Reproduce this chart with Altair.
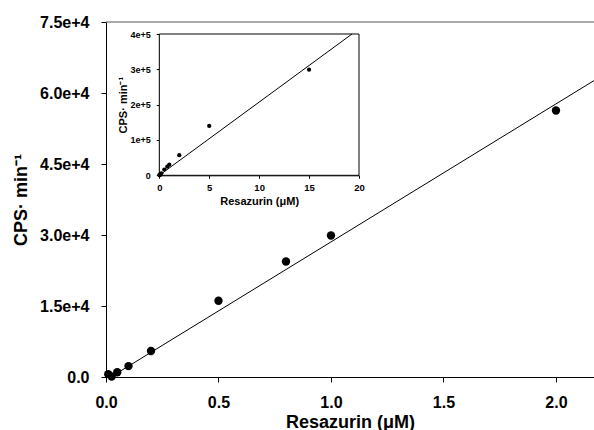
import altair as alt
import pandas as pd

# Main panel data
conc = [0.01, 0.025, 0.05, 0.1, 0.2, 0.5, 0.8, 1.0, 2.0]
cps = [600, 100, 1000, 2300, 5500, 16100, 24400, 29900, 56300]
fit_x = [0.0, 2.2]
fit_y = [-620, 63530]

# Inset data
inset_conc = [0.01, 0.025, 0.05, 0.1, 0.2, 0.5, 0.8, 1.0, 2.0, 5.0, 15.0]
inset_cps = [600, 100, 1000, 2300, 5500, 16100, 24400, 29900, 57000, 139600, 298900]
inset_fit_x = [0.0, 19.3]
inset_fit_y = [0, 400000]

main_x_ticks = [0, 0.5, 1.0, 1.5, 2.0]
main_y_ticks = [0, 15000, 30000, 45000, 60000, 75000]
inset_x_ticks = [0, 5, 10, 15, 20]
inset_y_ticks = [0, 100000, 200000, 300000, 400000]

FONT = "Liberation Sans"
x_title = "Resazurin (μM)"
y_title = "CPS· min⁻¹"

pts = pd.DataFrame({"x": conc, "y": cps})
fit = pd.DataFrame({"x": fit_x, "y": fit_y})
ipts = pd.DataFrame({"x": inset_conc, "y": inset_cps})
ifit = pd.DataFrame({"x": inset_fit_x, "y": inset_fit_y})
box = pd.DataFrame({"x": [0], "x2": [20], "y": [0], "y2": [400000]})
top = pd.DataFrame({"y": [75000]})

common_axis = dict(
    domainColor="black", tickColor="black", labelColor="black", titleColor="black",
    labelFont=FONT, titleFont=FONT, labelFontWeight="bold", titleFontWeight="bold",
    grid=False, domainWidth=1, tickWidth=1, labelFlush=False, labelOverlap=False,
)

mx = alt.X("x:Q", scale=alt.Scale(domain=[0, 2.169], nice=False, zero=False),
           axis=alt.Axis(orient="bottom", values=main_x_ticks, format=".1f", title=x_title,
                         tickSize=5, labelFontSize=16, titleFontSize=18, labelPadding=12,
                         titleY=45, titleBaseline="middle", **common_axis))
my = alt.Y("y:Q", scale=alt.Scale(domain=[0, 75000], nice=False),
           axis=alt.Axis(orient="left", values=main_y_ticks, title=y_title,
                         labelExpr="datum.value == 0 ? '0.0' : format(datum.value / 10000, '.1f') + 'e+4'",
                         tickSize=5, labelFontSize=16, titleFontSize=18, labelPadding=12,
                         titleX=-85, titleBaseline="middle", titleAlign="center", **common_axis))

main_line = alt.Chart(fit).mark_line(color="black", strokeWidth=1, clip=True).encode(x=mx, y=my)
main_pts = alt.Chart(pts).mark_circle(size=70, color="black", opacity=1).encode(x="x:Q", y="y:Q")
top_rule = alt.Chart(top).mark_rule(color="#555555", strokeWidth=1).encode(y="y:Q")
main = alt.layer(main_line, main_pts, top_rule)

ix = alt.X("x:Q", scale=alt.Scale(domain=[0, 20], range=[53.3, 253], nice=False, zero=False),
           axis=alt.Axis(orient="bottom", offset=-201.7, values=inset_x_ticks, format="d", title=x_title,
                         tickSize=3, labelFontSize=9.5, titleFontSize=11, labelPadding=4,
                         titleY=26.4, titleBaseline="middle", **common_axis))
iy = alt.Y("y:Q", scale=alt.Scale(domain=[0, 400000], range=[153.3, 12], nice=False),
           axis=alt.Axis(orient="left", offset=-53.3, values=inset_y_ticks, title=y_title,
                         labelExpr="datum.value == 0 ? '0' : format(datum.value / 100000, 'd') + 'e+5'",
                         tickSize=3, labelFontSize=9, titleFontSize=11, labelPadding=6,
                         titleX=-36, titleBaseline="middle", titleAlign="center", **common_axis))

inset_box = alt.Chart(box).mark_rect(fill="white", stroke="black", strokeWidth=1).encode(
    x=ix, x2="x2:Q", y=iy, y2="y2:Q")
inset_line = alt.Chart(ifit).mark_line(color="black", strokeWidth=1).encode(x="x:Q", y="y:Q")
inset_pts = alt.Chart(ipts).mark_circle(size=18, color="black", opacity=1).encode(x="x:Q", y="y:Q")
inset = alt.layer(inset_box, inset_line, inset_pts)

chart = alt.layer(main, inset).resolve_scale(x="independent", y="independent").properties(
    width=488, height=355,
    padding={"left": 106, "top": 22, "right": 0, "bottom": 53},
    autosize="none",
    background="white",
).configure_view(stroke=None)

chart.save("out.html", embed_options={"renderer": "svg", "actions": False})
